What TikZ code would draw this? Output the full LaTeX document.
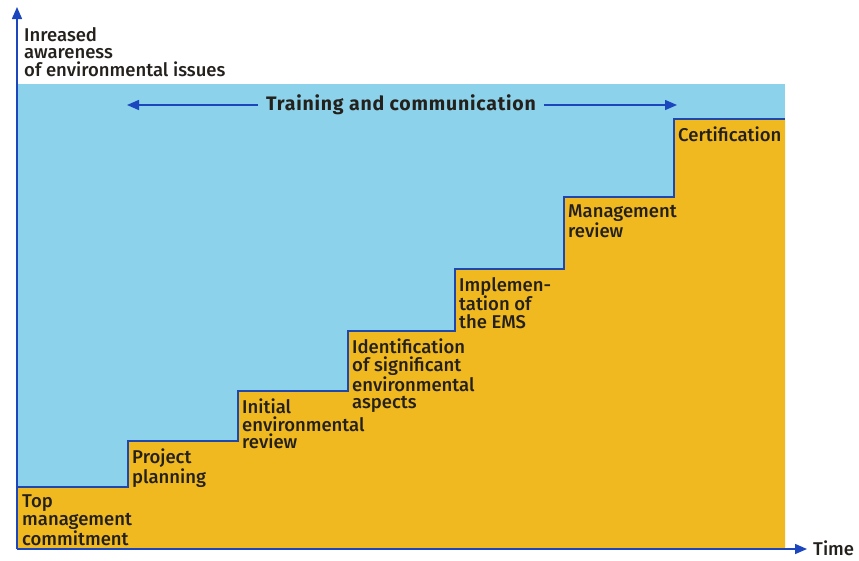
\documentclass[tikz,border=0pt]{standalone}
\usepackage{fontspec}
\setmainfont{Fira Sans}[UprightFont={* Medium},BoldFont={* Bold}]
\usetikzlibrary{arrows.meta}

\definecolor{skyfill}{RGB}{140,210,235}
\definecolor{stepfill}{RGB}{240,185,32}
\definecolor{lineblue}{RGB}{32,72,172}
\definecolor{arrowblue}{RGB}{28,70,190}
\definecolor{labeltext}{RGB}{36,32,28}

\begin{document}
\begin{tikzpicture}[x=1pt,y=-1pt,font=\fontsize{18.5}{17.5}\selectfont,
    steplabel/.style={anchor=north west,align=left,inner sep=0pt,text=labeltext},
    axisarrow/.style={arrowblue,line width=1.5pt,-{Triangle[length=12pt,width=10pt]}}]
    
    \useasboundingbox (0,0) rectangle (859,560);
    
    % sky above the staircase
    \fill[skyfill] (18,84) rectangle (785,549);
    
    % staircase
    \fill[stepfill] (18,549) -- (18,487) -- (128,487) -- (128,441) -- (238,441) -- (238,391)
        -- (348,391) -- (348,331) -- (455,331) -- (455,269) -- (564,269) -- (564,197)
        -- (674,197) -- (674,119) -- (785,119) -- (785,549) -- cycle;
    \draw[lineblue,line width=1.6pt] (18,487) -- (128,487) -- (128,441) -- (238,441) -- (238,391)
        -- (348,391) -- (348,331) -- (455,331) -- (455,269) -- (564,269) -- (564,197)
        -- (674,197) -- (674,119) -- (785,119);
    
    % step labels
    \foreach \name/\x/\y/\txt in {
        s1/18/487/{Top\\management\\commitment},
        s2/128/441/{Project\\planning},
        s3/238/391/{Initial\\environmental\\review},
        s4/348/331/{Identification\\of significant\\environmental\\aspects},
        s5/455/269/{Implemen-\\tation of\\the EMS},
        s6/564/197/{Management\\review},
        s7/674/119/{Certification}}
        \node[steplabel] (\name) at (\x+4,\y+8) {\txt};
    
    % axes
    \coordinate (origin) at (17,549);
    \coordinate (ytip) at (17,7);
    \coordinate (xtip) at (807,549);
    \draw[axisarrow] (origin) -- (ytip);
    \draw[axisarrow] (origin) -- (xtip);
    \node[anchor=west,inner sep=0pt,text=labeltext] (time) at (813,548) {Time};
    \node[steplabel] (awareness) at (24,27) {Inreased\\awareness\\of environmental issues};
    
    % training arrow
    \node[inner sep=0pt,text=labeltext,font=\fontsize{19.5}{20}\selectfont\bfseries\addfontfeatures{LetterSpace=4}] (train) at (401,105) {Training and communication};
    \coordinate (trainleft) at (127,105);
    \coordinate (trainright) at (677,105);
    \draw[axisarrow] ([xshift=-8pt]train.west) -- (trainleft);
    \draw[axisarrow] ([xshift=8pt]train.east) -- (trainright);
    
\end{tikzpicture}
\end{document}
